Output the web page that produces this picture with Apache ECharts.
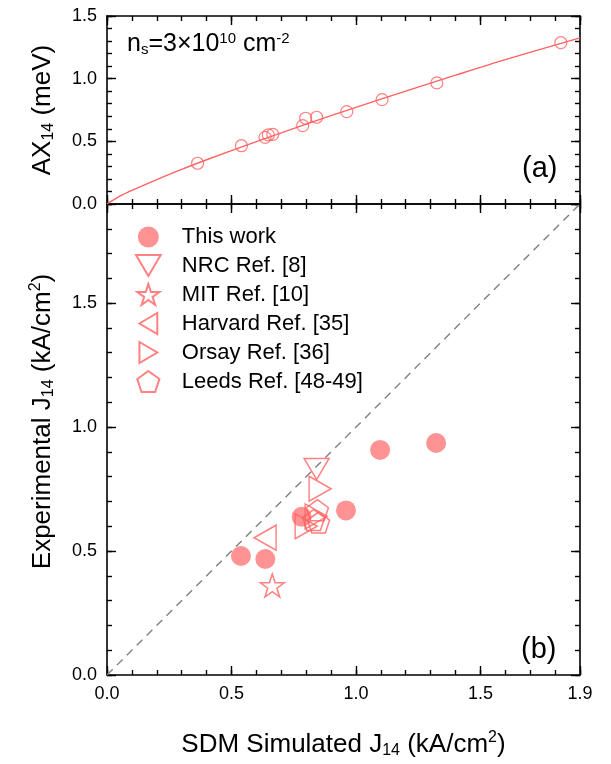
<!DOCTYPE html>
<html>
<head>
<meta charset="utf-8">
<script src="https://cdn.jsdelivr.net/npm/echarts@6/dist/echarts.min.js"></script>
<style>
  html, body { margin: 0; padding: 0; background: #fff; }
  #chart { width: 611px; height: 764px; }
</style>
</head>
<body>
<div id="chart"></div>
<script>
// ---------- DATA ----------
// Panel (a): AX14 vs SDM simulated J14
const axX = [0.364, 0.540, 0.635, 0.648, 0.666, 0.786, 0.798, 0.842, 0.963, 1.105, 1.325, 1.823];
const axY = [0.325, 0.465, 0.532, 0.551, 0.556, 0.625, 0.684, 0.692, 0.737, 0.833, 0.966, 1.287];
// fitted curve
const fitX = [0, 0.05, 0.1, 0.2, 0.3, 0.4, 0.6, 0.8, 1.0, 1.2, 1.4, 1.6, 1.9];
const fitY = [0, 0.060, 0.108, 0.195, 0.276, 0.353, 0.498, 0.637, 0.771, 0.901, 1.028, 1.152, 1.325];

// Panel (b): experimental vs simulated J14
const thisWorkX = [0.538, 0.636, 0.782, 0.960, 1.097, 1.322];
const thisWorkY = [0.480, 0.468, 0.638, 0.664, 0.908, 0.936];
const nrcX = [0.842];
const nrcY = [0.831];
const mitX = [0.664];
const mitY = [0.361];
const harvardX = [0.635];
const harvardY = [0.554];
const orsayX = [0.856, 0.800, 0.840];
const orsayY = [0.751, 0.600, 0.640];
const leedsX = [0.845, 0.850, 0.830];
const leedsY = [0.665, 0.615, 0.625];
const diagX = [0, 1.9];
const diagY = [0, 1.9];

const seriesNames = ['This work', 'NRC Ref. [8]', 'MIT Ref. [10]', 'Harvard Ref. [35]', 'Orsay Ref. [36]', 'Leeds Ref. [48-49]'];

// ---------- STYLE ----------
const FONT = 'Liberation Sans, Arial, sans-serif';
const RED = '#ff6262';
const FILL = '#ff7878';

const zip = (xs, ys) => xs.map((x, i) => [x, ys[i]]);

const SYM = {
  down: 'path://M0,0L2,0L1,1.7Z',
  left: 'path://M0,1L1.7,0L1.7,2Z',
  right: 'path://M0,0L1.7,1L0,2Z',
  star: 'path://M0,-1L0.2245,-0.309L0.951,-0.309L0.363,0.118L0.588,0.809L0,0.382L-0.588,0.809L-0.363,0.118L-0.951,-0.309L-0.2245,-0.309Z',
  pent: 'path://M0,-1L0.951,-0.309L0.588,0.809L-0.588,0.809L-0.951,-0.309Z'
};

const richTitle = {
  sub: { fontSize: 16, fontFamily: FONT, color: '#000', verticalAlign: 'bottom', padding: [13, 0, 0, 0] },
  sup: { fontSize: 16, fontFamily: FONT, color: '#000', verticalAlign: 'top', padding: [0, 0, 8, 0] }
};

function makeAxes(gridIndex, dim, min, max, opts) {
  const positions = dim === 'x' ? ['bottom', 'top'] : ['left', 'right'];
  const out = [];
  positions.forEach((p, i) => {
    [0.5, 0.1].forEach((iv, j) => {
      const main = (i === 0 && j === 0);
      const ax = {
        type: 'value', gridIndex, position: p, min, max, interval: iv,
        axisLine: { show: j === 0, onZero: false, lineStyle: { color: '#000', width: 1.6 } },
        axisTick: { show: true, inside: true, length: j === 0 ? 9 : 5, lineStyle: { color: '#000', width: 1.4 } },
        axisLabel: {
          show: !!(main && opts.labels),
          color: '#000', fontFamily: FONT, fontSize: 18, margin: 10,
          formatter: v => v.toFixed(1),
          showMaxLabel: opts.showMax !== false,
          showMinLabel: true
        },
        splitLine: { show: false },
        silent: true
      };
      if (main && opts.name) {
        ax.name = opts.name;
        ax.nameLocation = 'middle';
        ax.nameGap = opts.nameGap;
        ax.nameTextStyle = Object.assign({
          color: '#000', fontFamily: FONT, fontSize: 26, rich: richTitle
        }, opts.nameStyle || {});
      }
      out.push(ax);
    });
  });
  return out;
}

const xAxes = [].concat(
  makeAxes(0, 'x', 0, 1.9, { labels: false }),
  makeAxes(1, 'x', 0, 1.9, { labels: true, name: 'SDM Simulated J{sub|14} (kA/cm{sup|2})', nameGap: 55 })
);
const yAxes = [].concat(
  makeAxes(0, 'y', 0, 1.5, { labels: true, name: 'AX{sub|14} (meV)', nameGap: 50 }),
  makeAxes(1, 'y', 0, 1.9, { labels: true, showMax: false, name: 'Experimental J{sub|14} (kA/cm{sup|2})', nameGap: 50,
    nameStyle: { padding: [0, 0, 0, 36] } })
);

const outline = { color: 'rgba(255,255,255,0)', borderColor: RED, borderWidth: 1.5 };

const option = {
  animation: false,
  backgroundColor: '#fff',
  grid: [
    { left: 107, top: 16, width: 473, height: 188 },
    { left: 107, top: 204, width: 473, height: 473 }
  ],
  xAxis: xAxes,
  yAxis: yAxes,
  legend: {
    orient: 'vertical', left: 130, top: 221,
    itemWidth: 57, itemHeight: 21, itemGap: 6,
    symbolKeepAspect: true,
    textStyle: { color: '#000', fontFamily: FONT, fontSize: 22, lineHeight: 22 },
    data: seriesNames
  },
  graphic: [
    {
      type: 'text', left: 127, top: 31,
      style: {
        text: 'n{sub|s}=3×10{sup|10} cm{sup|-2}',
        fill: '#000', font: '25px ' + FONT,
        rich: {
          sub: { fontSize: 15, fontFamily: FONT, fill: '#000', verticalAlign: 'bottom', padding: [11, 0, 0, 0] },
          sup: { fontSize: 15, fontFamily: FONT, fill: '#000', verticalAlign: 'top', padding: [0, 0, 8, 0] }
        }
      }
    },
    { type: 'text', left: 522, top: 154, style: { text: '(a)', fill: '#000', font: '29px ' + FONT } },
    { type: 'text', left: 521, top: 635, style: { text: '(b)', fill: '#000', font: '29px ' + FONT } }
  ],
  series: [
    {
      type: 'line', xAxisIndex: 0, yAxisIndex: 0, data: zip(fitX, fitY),
      smooth: 0.3, showSymbol: false, silent: true,
      lineStyle: { color: RED, width: 1.4 }, z: 2
    },
    {
      type: 'scatter', xAxisIndex: 0, yAxisIndex: 0, data: zip(axX, axY),
      symbol: 'circle', symbolSize: 12, itemStyle: { color: 'rgba(255,255,255,0)', borderColor: RED, borderWidth: 1.2 }, z: 3
    },
    {
      type: 'line', xAxisIndex: 4, yAxisIndex: 4, data: zip(diagX, diagY),
      showSymbol: false, silent: true,
      lineStyle: { color: '#808080', width: 1.4, type: [8, 6] }, z: 1
    },
    {
      name: seriesNames[0], type: 'scatter', xAxisIndex: 4, yAxisIndex: 4, data: zip(thisWorkX, thisWorkY),
      symbol: 'circle', symbolSize: 20, itemStyle: { color: FILL }, z: 3
    },
    {
      name: seriesNames[1], type: 'scatter', xAxisIndex: 4, yAxisIndex: 4, data: zip(nrcX, nrcY),
      symbol: SYM.down, symbolSize: [25, 21], itemStyle: outline, z: 4
    },
    {
      name: seriesNames[2], type: 'scatter', xAxisIndex: 4, yAxisIndex: 4, data: zip(mitX, mitY),
      symbol: SYM.star, symbolSize: [24, 23], itemStyle: outline, z: 4
    },
    {
      name: seriesNames[3], type: 'scatter', xAxisIndex: 4, yAxisIndex: 4, data: zip(harvardX, harvardY),
      symbol: SYM.left, symbolSize: [22, 25], itemStyle: outline, z: 4
    },
    {
      name: seriesNames[4], type: 'scatter', xAxisIndex: 4, yAxisIndex: 4, data: zip(orsayX, orsayY),
      symbol: SYM.right, symbolSize: [22, 25], itemStyle: outline, z: 4
    },
    {
      name: seriesNames[5], type: 'scatter', xAxisIndex: 4, yAxisIndex: 4, data: zip(leedsX, leedsY),
      symbol: SYM.pent, symbolSize: [22, 21], itemStyle: outline, z: 4
    }
  ]
};

const chart = echarts.init(document.getElementById('chart'), null, { renderer: 'canvas' });
chart.setOption(option);
</script>
</body>
</html>
